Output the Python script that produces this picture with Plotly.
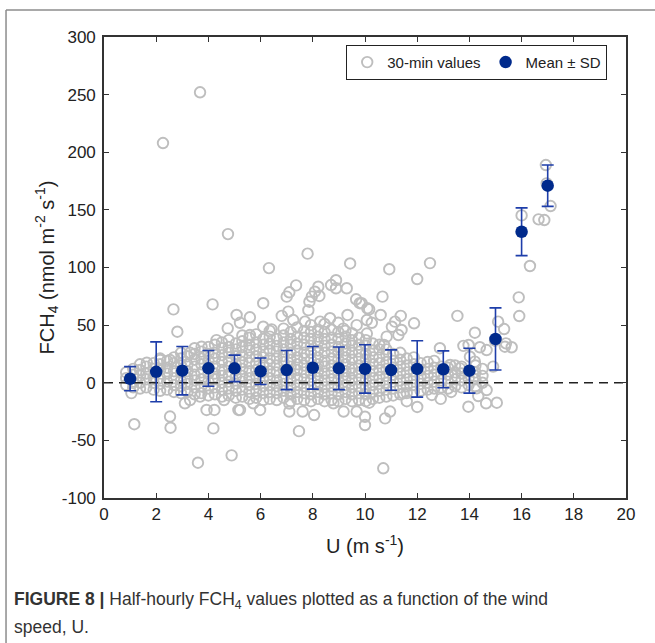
import plotly.graph_objects as go

# Wind-speed bins with their mean flux and standard deviation
bin_u = [1, 2, 3, 4, 5, 6, 7, 8, 9, 10, 11, 12, 13, 14, 15, 16, 17]
bin_mean = [3.5, 9.5, 10.5, 12.5, 12.5, 10, 11, 13, 12.5, 12, 11, 12, 11.7, 10.5, 38, 131, 171]
bin_sd = [10.5, 26, 21, 15.5, 11.5, 11.5, 17, 18.5, 18.5, 21, 17.5, 24.5, 16, 19.5, 27, 20.7, 18]

# Half-hourly observations in the bulk of the cloud, grouped by wind speed
core_u = [0.85, 1.12, 1.38, 1.62, 1.9, 2.15, 2.42, 2.68, 2.95, 3.2, 3.47, 3.73,
          4.0, 4.25, 4.52, 4.78, 5.05, 5.3, 5.57, 5.83, 6.1, 6.35, 6.62, 6.88,
          7.15, 7.4, 7.67, 7.93, 8.2, 8.45, 8.72, 8.98, 9.25, 9.5, 9.77, 10.03,
          10.3, 10.55, 10.82, 11.08, 11.35, 11.6, 11.87, 12.13, 12.4, 12.65,
          12.92, 13.18, 13.45, 13.7, 13.97, 14.23, 14.5]
core_f = [
    [-2, 4, 9],
    [-4, 1, 7, 12],
    [-5, 0, 6, 11, 16],
    [-4, 3, 8, 14],
    [-6, 0, 5, 12, 17],
    [-7, -1, 4, 11, 16, 21],
    [-6, 1, 8, 13, 19],
    [-8, -2, 4, 10, 17, 22],
    [-9, -3, 2, 9, 15, 21, 26],
    [-8, -1, 4, 10, 16, 23],
    [-10, -4, 2, 7, 14, 20, 25, 30],
    [-9, -3, 3, 9, 16, 21, 27],
    [-11, -5, 1, 8, 13, 19, 25, 31],
    [-10, -4, 3, 8, 14, 21, 26, 33],
    [-12, -6, 0, 6, 11, 18, 24, 30, 35],
    [-11, -5, 1, 7, 14, 19, 26, 31, 37],
    [-13, -7, -1, 5, 11, 16, 23, 29, 34],
    [-12, -6, 1, 6, 12, 18, 24, 31, 36, 41],
    [-14, -8, -2, 4, 10, 17, 22, 28, 33, 39],
    [-13, -7, -1, 6, 11, 17, 23, 29, 35, 42],
    [-15, -9, -3, 3, 9, 15, 22, 27, 33, 38],
    [-14, -8, -2, 4, 10, 16, 21, 28, 34, 40, 45],
    [-15, -9, -3, 2, 9, 15, 21, 27, 32, 38],
    [-13, -7, -1, 5, 11, 18, 23, 29, 35, 41, 47],
    [-16, -10, -4, 2, 8, 14, 20, 26, 33, 38, 44],
    [-14, -8, -2, 4, 11, 16, 22, 28, 34, 40, 48],
    [-15, -9, -3, 3, 9, 15, 21, 26, 33, 39, 45],
    [-16, -10, -4, 2, 8, 13, 20, 26, 32, 38, 44, 50],
    [-14, -8, -2, 4, 10, 16, 22, 28, 35, 40, 46],
    [-16, -10, -4, 2, 8, 14, 19, 26, 32, 38, 44, 51],
    [-15, -9, -3, 3, 9, 15, 21, 27, 33, 39, 46],
    [-16, -10, -4, 2, 8, 14, 20, 26, 31, 38, 44, 52],
    [-14, -8, -2, 4, 10, 16, 22, 28, 34, 40, 45],
    [-16, -10, -4, 2, 8, 13, 20, 26, 32, 37, 43],
    [-15, -9, -3, 3, 9, 15, 21, 27, 33, 39],
    [-16, -10, -4, 2, 8, 14, 20, 25, 32, 37],
    [-14, -8, -2, 4, 10, 16, 22, 28, 34],
    [-13, -7, -1, 5, 11, 17, 22, 29, 33],
    [-12, -6, 0, 6, 12, 18, 24, 29],
    [-11, -5, 1, 7, 13, 19, 25],
    [-10, -4, 2, 8, 14, 20, 26],
    [-9, -3, 3, 9, 15, 21],
    [-8, -2, 4, 10, 16, 22],
    [-7, -1, 5, 11, 17],
    [-6, 0, 6, 12, 18],
    [-5, 1, 7, 13, 19],
    [-4, 2, 8, 14],
    [-5, 1, 7, 13],
    [-3, 3, 9, 15],
    [-4, 2, 8, 14],
    [-2, 4, 10],
    [-3, 3, 9, 15],
    [0, 6, 12],
]

# Scattered half-hourly observations away from the bulk
outer_u = [3.68, 2.26, 4.75, 6.32, 7.8, 9.43, 10.93, 12.49, 12.0,
           7.36, 7.1, 7.0, 6.1, 8.21, 8.08, 7.96, 8.25, 7.87, 7.83, 8.7, 8.89,
           8.89, 9.3, 9.66, 9.8, 10.09, 9.33, 8.66, 8.28, 7.7, 7.25, 7.06, 6.81,
           5.59, 5.08, 5.21, 6.1, 6.42, 5.59, 9.17, 9.68, 10.07, 10.07,
           5.21, 5.98, 7.1, 7.61, 8.05, 7.47, 9.18, 9.68, 10.0, 10.0, 5.72,
           8.79, 4.89, 7.1,
           2.66, 4.16, 2.81, 4.74, 3.74, 4.31, 1.64, 2.15, 2.53, 3.3,
           1.16, 2.53, 2.55, 3.1, 3.3, 3.93, 4.23, 4.19, 3.6, 1.05, 3.68, 4.6,
           5.15,
           10.67, 10.16, 9.87, 10.6, 10.26, 11.15, 11.37, 11.03, 11.4, 11.88,
           11.28, 10.83, 10.73, 13.54, 14.21, 13.77, 13.97, 12.87, 14.66, 14.4,
           10.77, 10.96, 10.16, 10.7, 11.47, 12.56, 13.96, 14.34, 14.64, 15.05,
           12.0, 11.6, 12.9, 13.3,
           16.93, 16.96, 17.11, 16.65, 16.87, 16.0, 16.32, 15.89, 15.91, 15.1,
           15.33, 15.4, 15.62, 15.36, 14.98, 14.02, 14.21, 14.28, 14.66, 13.26,
           13.64, 14.91]
outer_f = [252, 208, 129, 99.5, 112, 103.5, 98.5, 103.8, 90,
           84.5, 78.5, 74.7, 69, 83.3, 79, 74.7, 75.3, 70.3, 63, 84.8, 89,
           82, 82, 72.4, 69, 64.6, 58.8, 56, 53, 53, 54.4, 61.7, 58,
           56.8, 58.8, 52, 48.6, 46.3, 41.4, 47, 50, 54.4, 42.7,
           -23.6, -23.6, -25, -25, -28, -42, -25, -25, -29.5, -36.7, -17.8,
           -17.8, -63, -18,
           63.7, 68, 44.3, 47.2, 31.3, 37, 17.4, 19.7, 19.7, 26,
           -36, -29.3, -39, -17.8, -15, -23.6, -23.6, -39.6, -69.4, -9, -12, -15,
           -23.6,
           74.7, 63.7, 69, 58.8, 52, 53, 58, 48.6, 45.8, 51.6,
           41.4, 40, 32.8, 58, 43.4, 32, 32.8, 30, 28.4, 30.8,
           -30.9, -25, -17.3, -74.2, -9.2, -10.6, -20.8, -11.5, -17.8, -17.3,
           -21, -16, -14, -8,
           188.9, 173, 153.3, 141.8, 141.2, 145.2, 101.3, 74.1, 57.9, 53,
           46.6, 34.2, 30.8, 31.3, 36.5, 22.6, 18.3, -4.8, -6.3, 15.4,
           12.5, 14]

x_ticks = [0, 2, 4, 6, 8, 10, 12, 14, 16, 18, 20]
y_ticks = [-100, -50, 0, 50, 100, 150, 200, 250, 300]
y_tick_labels = ["-100", "-50", "0", "50", "100", "150", "200", "250", "300"]

obs_u = [u for u, col in zip(core_u, core_f) for _ in col] + outer_u
obs_f = [f for col in core_f for f in col] + outer_f

GRAY = "rgb(190,190,190)"
NAVY = "rgb(0,42,140)"
BAR = "rgb(30,62,170)"
AXIS = "#333333"
FONT = "Liberation Sans, Arial, sans-serif"

fig = go.Figure()

fig.add_trace(go.Scatter(
    x=obs_u, y=obs_f, mode="markers", name="30-min values",
    marker=dict(symbol="circle-open", size=10.5, color=GRAY,
                line=dict(width=1.9, color=GRAY)),
))

# zero reference line
fig.add_trace(go.Scatter(
    x=[x_ticks[0], x_ticks[-1]], y=[0, 0], mode="lines", showlegend=False,
    line=dict(color="#222222", width=1.6, dash="9px,6px"), hoverinfo="skip",
))

fig.add_trace(go.Scatter(
    x=bin_u, y=bin_mean, mode="markers", name="Mean ± SD",
    marker=dict(symbol="circle", size=12.5, color=NAVY),
    error_y=dict(type="data", array=bin_sd, visible=True, color=BAR,
                 thickness=1.6, width=6),
))

axis_common = dict(
    showline=True, linecolor=AXIS, linewidth=1.6, mirror="ticks",
    ticks="inside", ticklen=5, tickwidth=1.4, tickcolor=AXIS,
    showgrid=False, zeroline=False,
    tickfont=dict(family=FONT, size=17, color="#222222"),
)

fig.update_layout(
    width=655, height=643,
    margin=dict(l=104, r=29, t=37, b=145),
    paper_bgcolor="white", plot_bgcolor="white",
    font=dict(family=FONT, color="#222222"),
    xaxis=dict(range=[0, 20], tickvals=x_ticks, **axis_common,
               title=dict(text="U (m s<sup>-1</sup>)", standoff=16,
                          font=dict(family=FONT, size=20, color="#222222"))),
    yaxis=dict(range=[-100, 300], tickvals=y_ticks, ticktext=y_tick_labels,
               **axis_common, ticklabelstandoff=3,
               title=dict(text="FCH<sub>4</sub> (nmol m<sup>-2</sup> s<sup>-1</sup>)",
                          standoff=2,
                          font=dict(family=FONT, size=20, color="#222222"))),
    legend=dict(x=0.464, y=0.983, xanchor="left", yanchor="top",
                orientation="h", bgcolor="white", bordercolor="#222222",
                borderwidth=1, font=dict(family=FONT, size=15, color="#222222"),
                itemclick=False),
    showlegend=True,
)

# page frame and caption below the chart
fig.add_shape(type="line", xref="paper", yref="paper",
              x0=-0.1877, x1=1.2, y0=1.0586, y1=1.0586,
              line=dict(color="#8c8c8c", width=1.5))
fig.add_shape(type="line", xref="paper", yref="paper",
              x0=-0.1877, x1=-0.1877, y0=1.0586, y1=-0.32,
              line=dict(color="#8c8c8c", width=1.5))

CAP_FONT = "Liberation Sans, Arial, sans-serif"
fig.add_annotation(
    xref="paper", yref="paper", x=-0.1762, y=-0.2234,
    xanchor="left", yanchor="middle", showarrow=False, align="left",
    text="<b>FIGURE 8 |</b> Half-hourly FCH<sub>4</sub> values plotted as a function of the wind",
    font=dict(family=CAP_FONT, size=17.5, color="#333333"),
)
fig.add_annotation(
    xref="paper", yref="paper", x=-0.1762, y=-0.2798,
    xanchor="left", yanchor="middle", showarrow=False, align="left",
    text="speed, U.",
    font=dict(family=CAP_FONT, size=17.5, color="#333333"),
)

fig.write_html("out.html")
